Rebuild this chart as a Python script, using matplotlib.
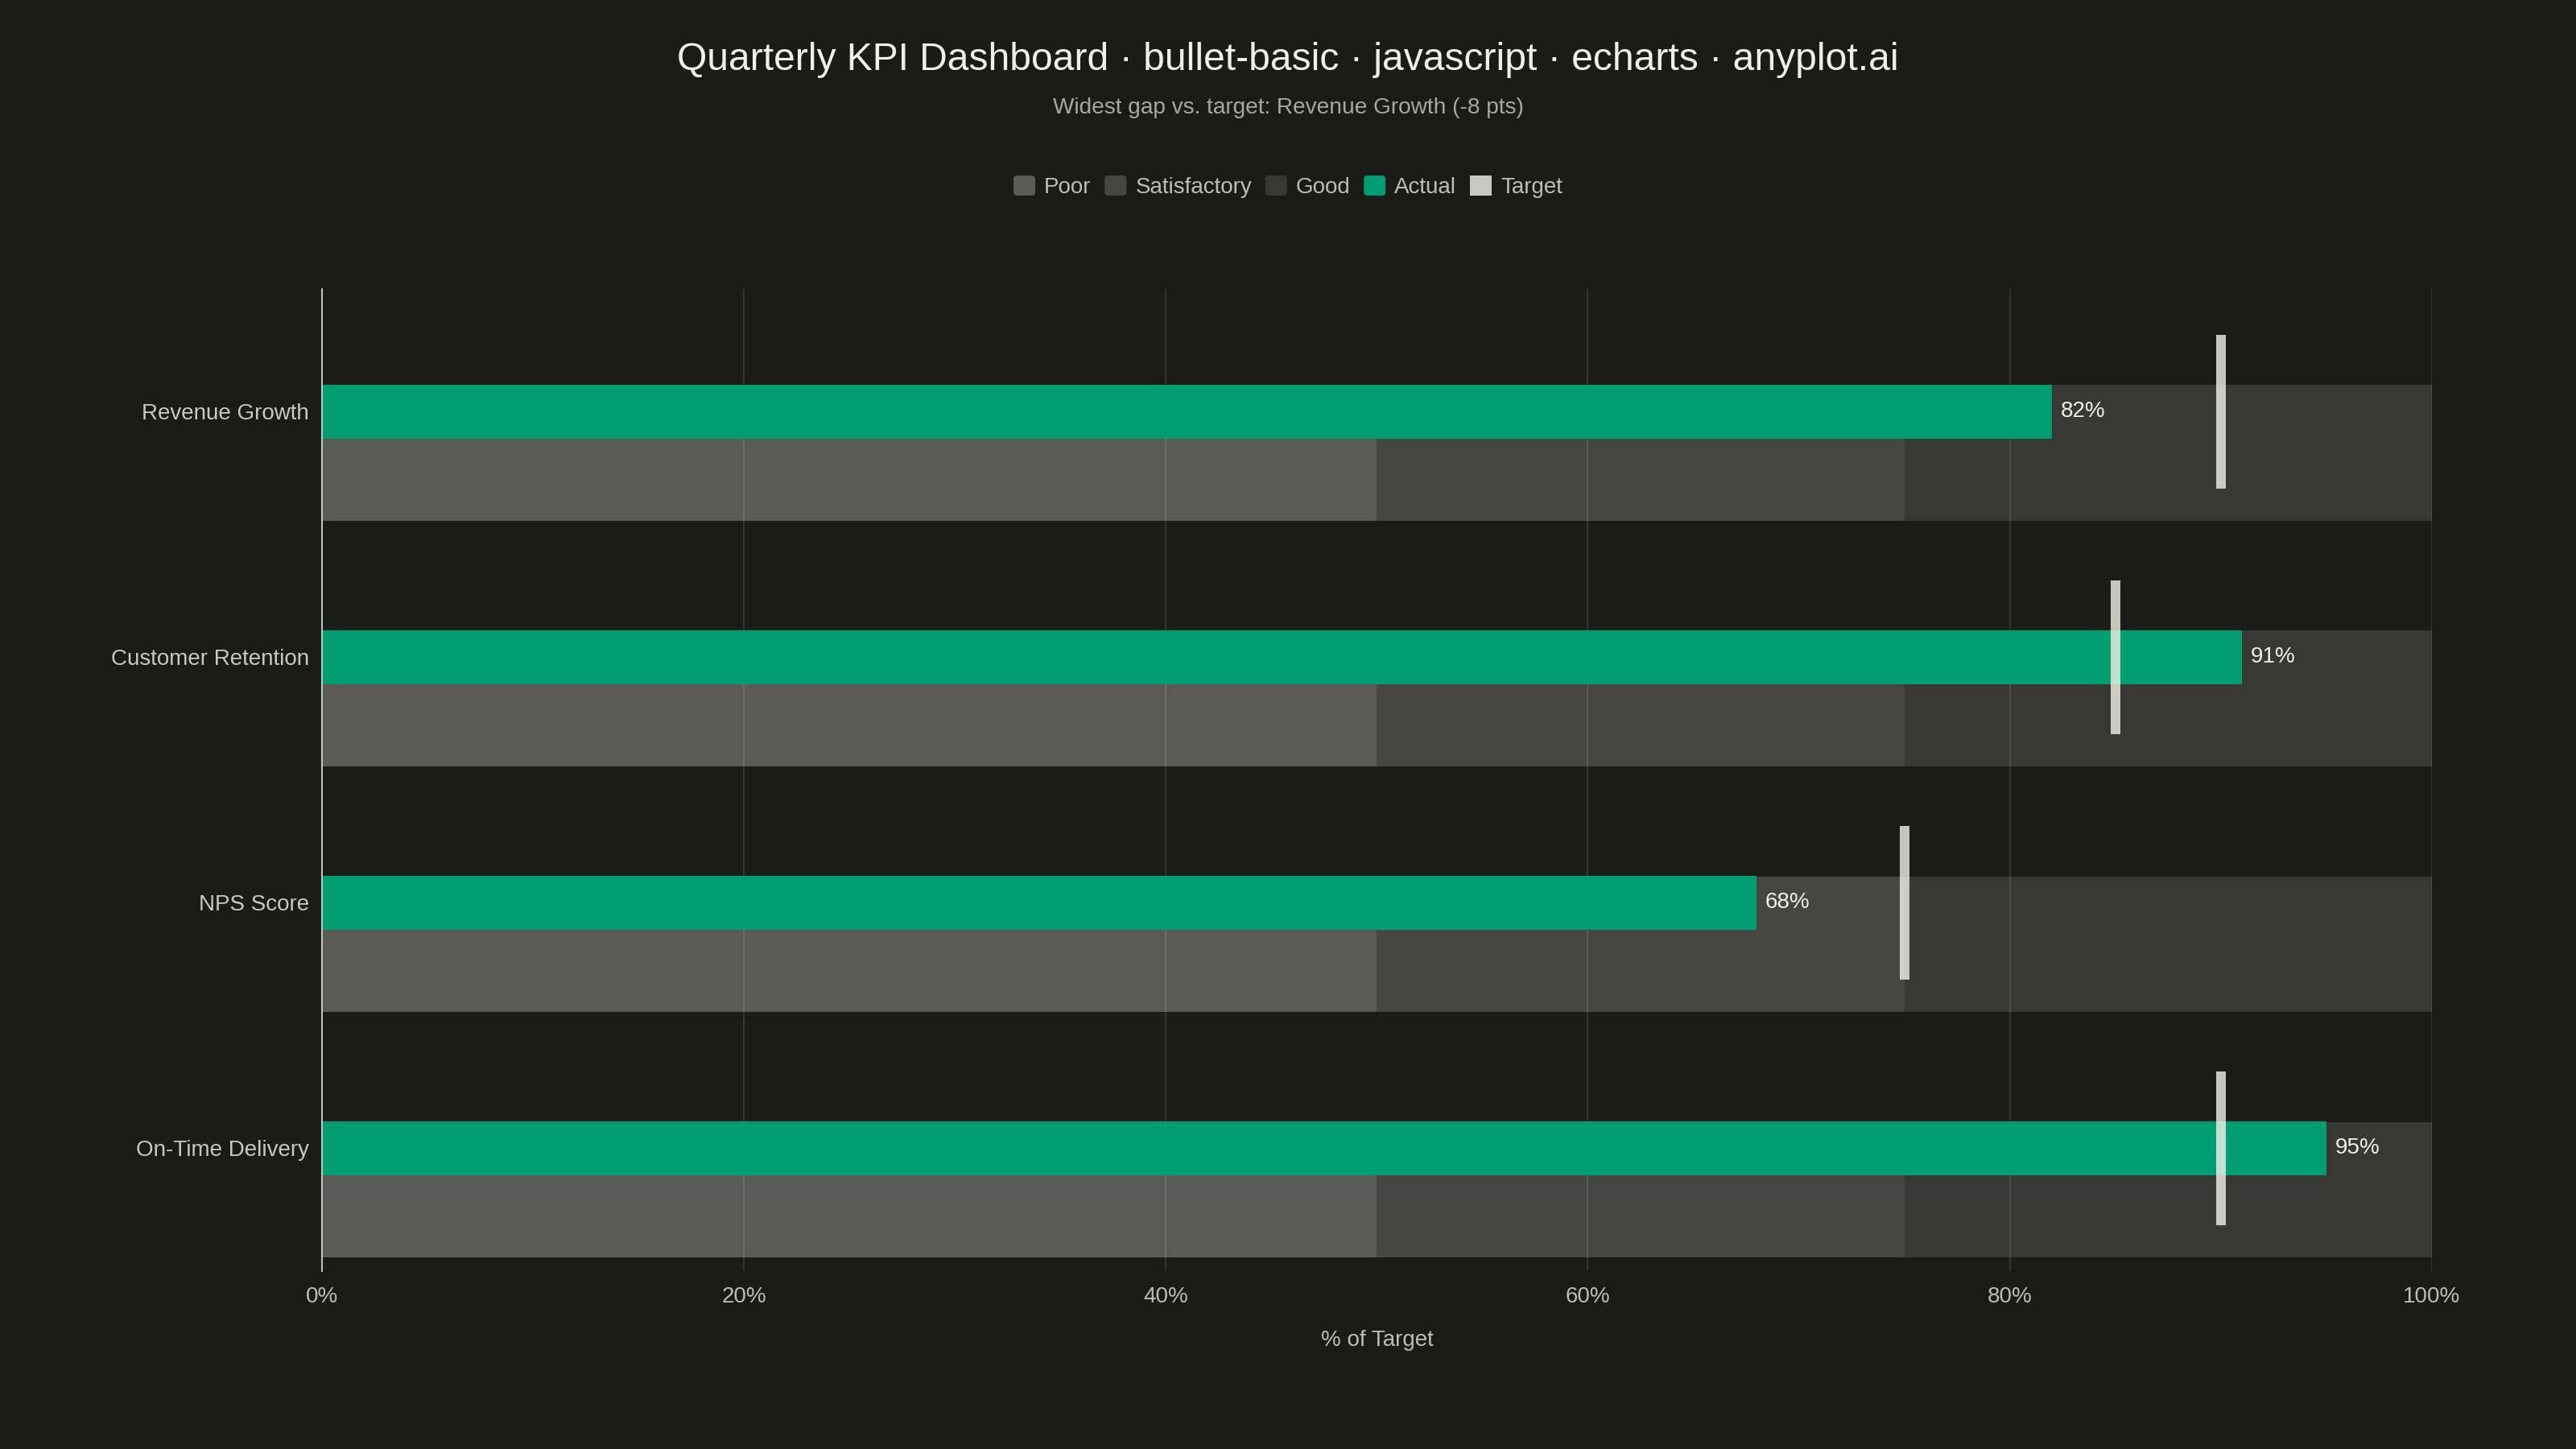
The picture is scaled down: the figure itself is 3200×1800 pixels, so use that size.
import matplotlib
matplotlib.use("Agg")
import matplotlib.pyplot as plt
from matplotlib.patches import Patch, FancyBboxPatch
from matplotlib.legend_handler import HandlerPatch

# ---------------- data ----------------
categories = ["Revenue Growth", "Customer Retention", "NPS Score", "On-Time Delivery"]
actual = [82, 91, 68, 95]
target = [90, 85, 75, 90]
poor_max = [50, 50, 50, 50]
satisfactory_max = [75, 75, 75, 75]
good_max = [100, 100, 100, 100]
x_ticks = [0, 20, 40, 60, 80, 100]
x_tick_labels = ["0%", "20%", "40%", "60%", "80%", "100%"]
legend_labels = ["Poor", "Satisfactory", "Good", "Actual", "Target"]
title_text = "Quarterly KPI Dashboard · bullet-basic · javascript · echarts · anyplot.ai"
subtitle_text = "Widest gap vs. target: Revenue Growth (-8 pts)"
x_name = "% of Target"

# ---------------- style ----------------
BG = "#1B1B17"
C_POOR = "#5A5B56"
C_SAT = "#464742"
C_GOOD = "#383935"
C_ACTUAL = "#009E73"
C_TARGET = "#F2F2EA"
FONT = ["Liberation Sans", "DejaVu Sans"]
plt.rcParams["font.family"] = FONT
FS = 10

fig = plt.figure(figsize=(16, 9), dpi=200, facecolor=BG)
ax = fig.add_axes([0.125, 0.1228, 0.819, 0.6778])
ax.set_facecolor(BG)

y = list(range(len(categories)))
range_off = 0.1675
range_h = 0.551
actual_h = 0.22
target_h = 0.626
target_w = 0.46

# qualitative ranges (stacked)
ax.barh([v + range_off for v in y], poor_max, height=range_h, left=0,
        color=C_POOR, zorder=1, linewidth=0)
ax.barh([v + range_off for v in y],
        [s - p for s, p in zip(satisfactory_max, poor_max)], height=range_h,
        left=poor_max, color=C_SAT, zorder=1, linewidth=0)
ax.barh([v + range_off for v in y],
        [g - s for g, s in zip(good_max, satisfactory_max)], height=range_h,
        left=satisfactory_max, color=C_GOOD, zorder=1, linewidth=0)

# actual bars
bars = ax.barh(y, actual, height=actual_h, color=C_ACTUAL, zorder=2, linewidth=0)
for b, v in zip(bars, actual):
    ax.annotate(f"{v}%", (b.get_width(), b.get_y() + b.get_height() / 2),
                xytext=(3.8, 0), textcoords="offset points", va="center", ha="left",
                color="#F0F0E8", fontsize=FS, zorder=4)

# target markers
ax.barh(y, [target_w] * len(target), height=target_h,
        left=[t - target_w / 2 for t in target], color=C_TARGET, alpha=0.8,
        zorder=3, linewidth=0)

# axes
ax.set_xlim(0, 100)
ax.set_ylim(len(categories) - 0.5, -0.5)
ax.set_yticks(y)
ax.set_yticklabels(categories)
ax.set_xticks(x_ticks)
ax.set_xticklabels(x_tick_labels)
ax.tick_params(axis="both", length=0, labelsize=FS, colors="#BDBDB5")
ax.tick_params(axis="x", pad=7.0)
ax.tick_params(axis="y", pad=5.8, labelcolor="#C8C8C0")
ax.set_axisbelow("line")
ax.grid(axis="x", color="white", alpha=0.11, linewidth=0.75)
ax.grid(axis="y", visible=False)
for s in ["top", "right", "bottom"]:
    ax.spines[s].set_visible(False)
ax.spines["left"].set_color("#C8C8C0")
ax.spines["left"].set_linewidth(0.7)
ax.spines["left"].set_zorder(5)
ax.set_xlabel(x_name, color="#BDBDB5", fontsize=FS, labelpad=10)

# titles
fig.text(0.5, 0.9584, title_text, ha="center", va="center", fontsize=17.3,
         color="#F0EFE8")
fig.text(0.5, 0.9256, subtitle_text, ha="center", va="center", fontsize=10.1,
         color="#A8A8A0")


# legend with rounded handles
class RoundHandler(HandlerPatch):
    def __init__(self, radius, **kw):
        super().__init__(**kw)
        self.radius = radius

    def create_artists(self, legend, orig_handle, xdescent, ydescent, width,
                       height, fontsize, trans):
        p = FancyBboxPatch((-xdescent, -ydescent), width, height,
                           boxstyle=f"round,pad=0,rounding_size={self.radius}",
                           facecolor=orig_handle.get_facecolor(),
                           edgecolor="none", transform=trans)
        return [p]


handles = [Patch(facecolor=c) for c in [C_POOR, C_SAT, C_GOOD, C_ACTUAL]]
handles.append(Patch(facecolor="#C8C8C2"))
rh = RoundHandler(1.6)
hmap = {h: rh for h in handles[:4]}
leg = fig.legend(handles, legend_labels, loc="center", bbox_to_anchor=(0.5, 0.8711),
                 ncol=5, frameon=False, fontsize=FS, handlelength=0.97,
                 handleheight=1.0, handletextpad=0.4, columnspacing=0.6,
                 handler_map=hmap, borderaxespad=0, borderpad=0)
for t in leg.get_texts():
    t.set_color("#BDBDB5")

fig.savefig("out.png", dpi=200, facecolor=BG)
